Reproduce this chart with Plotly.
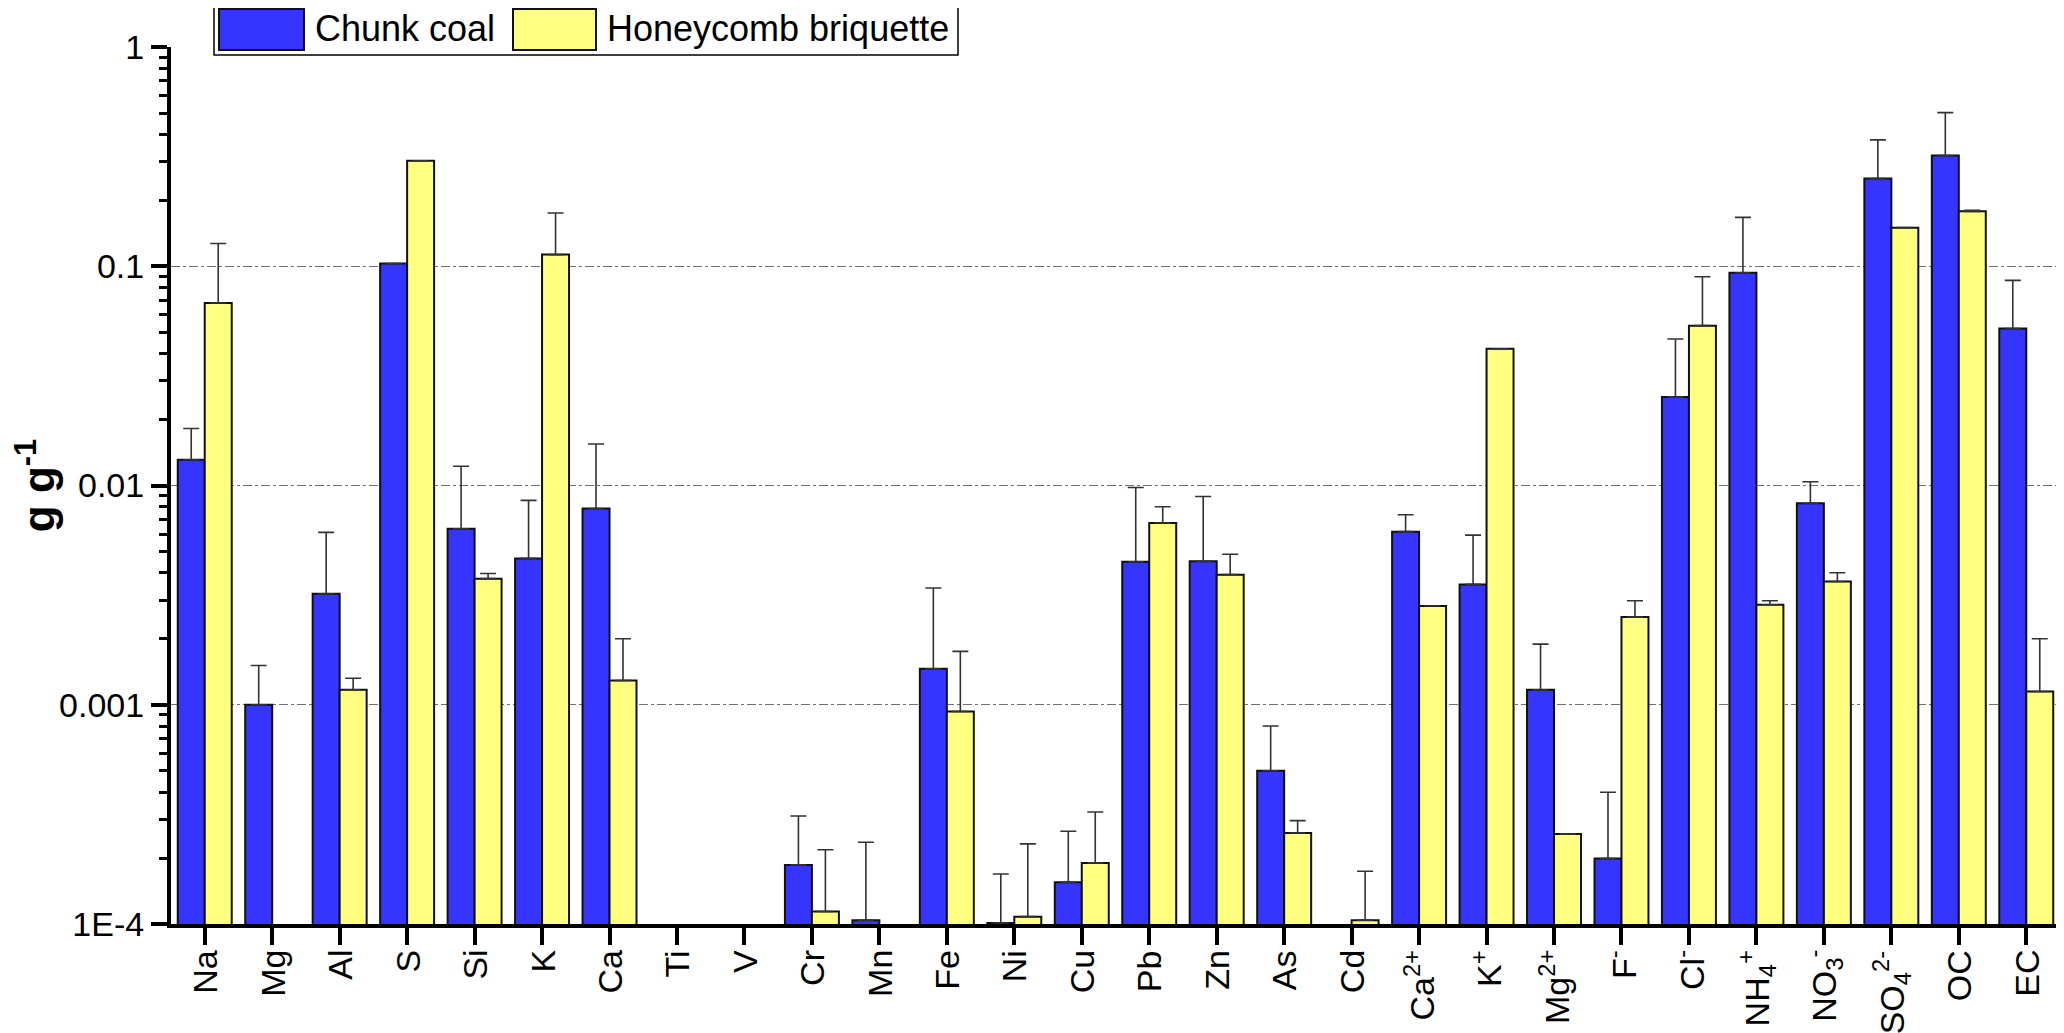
import plotly.graph_objects as go

# species on the x axis
species = ["Na", "Mg", "Al", "S", "Si", "K", "Ca", "Ti", "V", "Cr", "Mn", "Fe", "Ni", "Cu",
           "Pb", "Zn", "As", "Cd", "Ca<sup>2+</sup>", "K<sup>+</sup>", "Mg<sup>2+</sup>",
           "F<sup>-</sup>", "Cl<sup>-</sup>", "NH<sub>4</sub><sup>+</sup>",
           "NO<sub>3</sub><sup>-</sup>", "SO<sub>4</sub><sup>2-</sup>", "OC", "EC"]

# emission factors, g g-1 (None = not shown)
chunk_coal = [0.0131, 0.00100, 0.00321, 0.103, 0.00635, 0.00465, 0.00786, None, None,
              0.000186, 0.000104, 0.00146, 0.000101, 0.000155, 0.00449, 0.00451, 0.000500,
              None, 0.00616, 0.00354, 0.00117, 0.000199, 0.0253, 0.0934, 0.0083, 0.251,
              0.320, 0.052]
chunk_coal_sd = [0.0051, 0.00051, 0.0029, None, 0.0059, 0.0039, 0.0076, None, None,
                 0.000125, 0.000132, 0.00195, 0.000068, 0.00011, 0.0053, 0.0044, 0.0003,
                 None, 0.0012, 0.0024, 0.00072, 0.0002, 0.0213, 0.0736, 0.0021, 0.126,
                 0.182, 0.0342]

honeycomb = [0.068, None, 0.00117, 0.303, 0.00376, 0.113, 0.00129, None, None,
             0.000114, None, 0.000931, 0.000108, 0.00019, 0.00675, 0.00392, 0.00026,
             0.000104, 0.00282, 0.042, 0.000257, 0.00251, 0.0536, 0.00286, 0.00365,
             0.150, 0.178, 0.00115]
honeycomb_sd = [0.059, None, 0.00015, None, 0.00021, 0.062, 0.00071, None, None,
                0.000104, None, 0.00082, 0.000124, 0.000134, 0.00125, 0.00094, 0.000036,
                0.00007, None, None, None, 0.00047, 0.036, 0.00012, 0.00035, None,
                0.002, 0.00085]

y_ticks = [1e-4, 1e-3, 1e-2, 1e-1, 1]
y_ticktext = ["1E-4", "0.001", "0.01", "0.1", "1"]

BLUE, YELLOW = "#3535FF", "#FFFF80"
FONT = "Liberation Sans, Arial, sans-serif"

# page has an 8px body margin, so the plot box is laid out 8px up/left of the target
ML, MR, MT, MB = 163, 12, 39, 117
PLOT_W = 2064 - ML - MR
PLOT_H = 1033 - MT - MB


def px_x(p):  # screen pixel -> paper
    return (p - 8 - ML) / PLOT_W


def px_y(p):
    return (1033 - MB - (p - 8)) / PLOT_H


def errs(sd):
    return dict(type="data", array=sd, symmetric=False, arrayminus=[0] * len(sd),
                color="#333333", thickness=1.6, width=8)


fig = go.Figure()
fig.add_bar(x=species, y=chunk_coal, name="Chunk coal", error_y=errs(chunk_coal_sd),
            marker=dict(color=BLUE, line=dict(color="#111111", width=2)))
fig.add_bar(x=species, y=honeycomb, name="Honeycomb briquette", error_y=errs(honeycomb_sd),
            marker=dict(color=YELLOW, line=dict(color="#111111", width=2)))

minor_vals = [k * 10 ** e for e in range(-4, 0) for k in range(2, 10)]

fig.update_layout(
    width=2064, height=1033, barmode="group", bargap=0.2, bargroupgap=0,
    plot_bgcolor="white", paper_bgcolor="white", showlegend=False,
    margin=dict(l=ML, r=MR, t=MT, b=MB),
    font=dict(family=FONT, color="black"),
    xaxis=dict(showline=True, linecolor="black", linewidth=4, ticks="outside",
               ticklen=17, tickwidth=4, tickcolor="black", showticklabels=False,
               automargin=False, showgrid=False),
    yaxis=dict(type="log", range=[-4, 0], showline=True, linecolor="black", linewidth=4,
               tickmode="array", tickvals=y_ticks, ticktext=y_ticktext,
               ticks="outside", ticklen=16, tickwidth=4, tickcolor="black",
               tickfont=dict(size=34), automargin=False,
               showgrid=True, gridcolor="#707070", gridwidth=1.2, griddash="dashdot",
               minor=dict(tickmode="array", tickvals=minor_vals, ticks="outside",
                          ticklen=8, tickwidth=3, tickcolor="black", showgrid=False),
               title=dict(text="<b>g g<sup>-1</sup></b>", font=dict(size=44), standoff=6)),
)

# rotated category labels, top of each label hung just under the tick
for name in species:
    fig.add_annotation(x=name, xref="x", yref="paper", y=px_y(948), text=name,
                       textangle=-90, showarrow=False, xanchor="center", yanchor="top",
                       font=dict(size=34, family=FONT, color="black"))

# legend box drawn by hand to get the large swatches
fig.add_shape(type="rect", xref="paper", yref="paper", x0=px_x(214), x1=px_x(958),
              y0=px_y(55), y1=px_y(3), line=dict(color="black", width=1.5),
              fillcolor="white")
for (x0, x1, tx, colour, label) in [(219, 304, 313, BLUE, "Chunk coal"),
                                    (513, 596, 605, YELLOW, "Honeycomb briquette")]:
    fig.add_shape(type="rect", xref="paper", yref="paper", x0=px_x(x0), x1=px_x(x1),
                  y0=px_y(50), y1=px_y(9), line=dict(color="#111111", width=2),
                  fillcolor=colour)
    fig.add_annotation(xref="paper", yref="paper", x=px_x(tx), y=px_y(29), text=label,
                       showarrow=False, xanchor="left", yanchor="middle",
                       font=dict(size=36, family=FONT, color="black"))

fig.write_html("out.html")
